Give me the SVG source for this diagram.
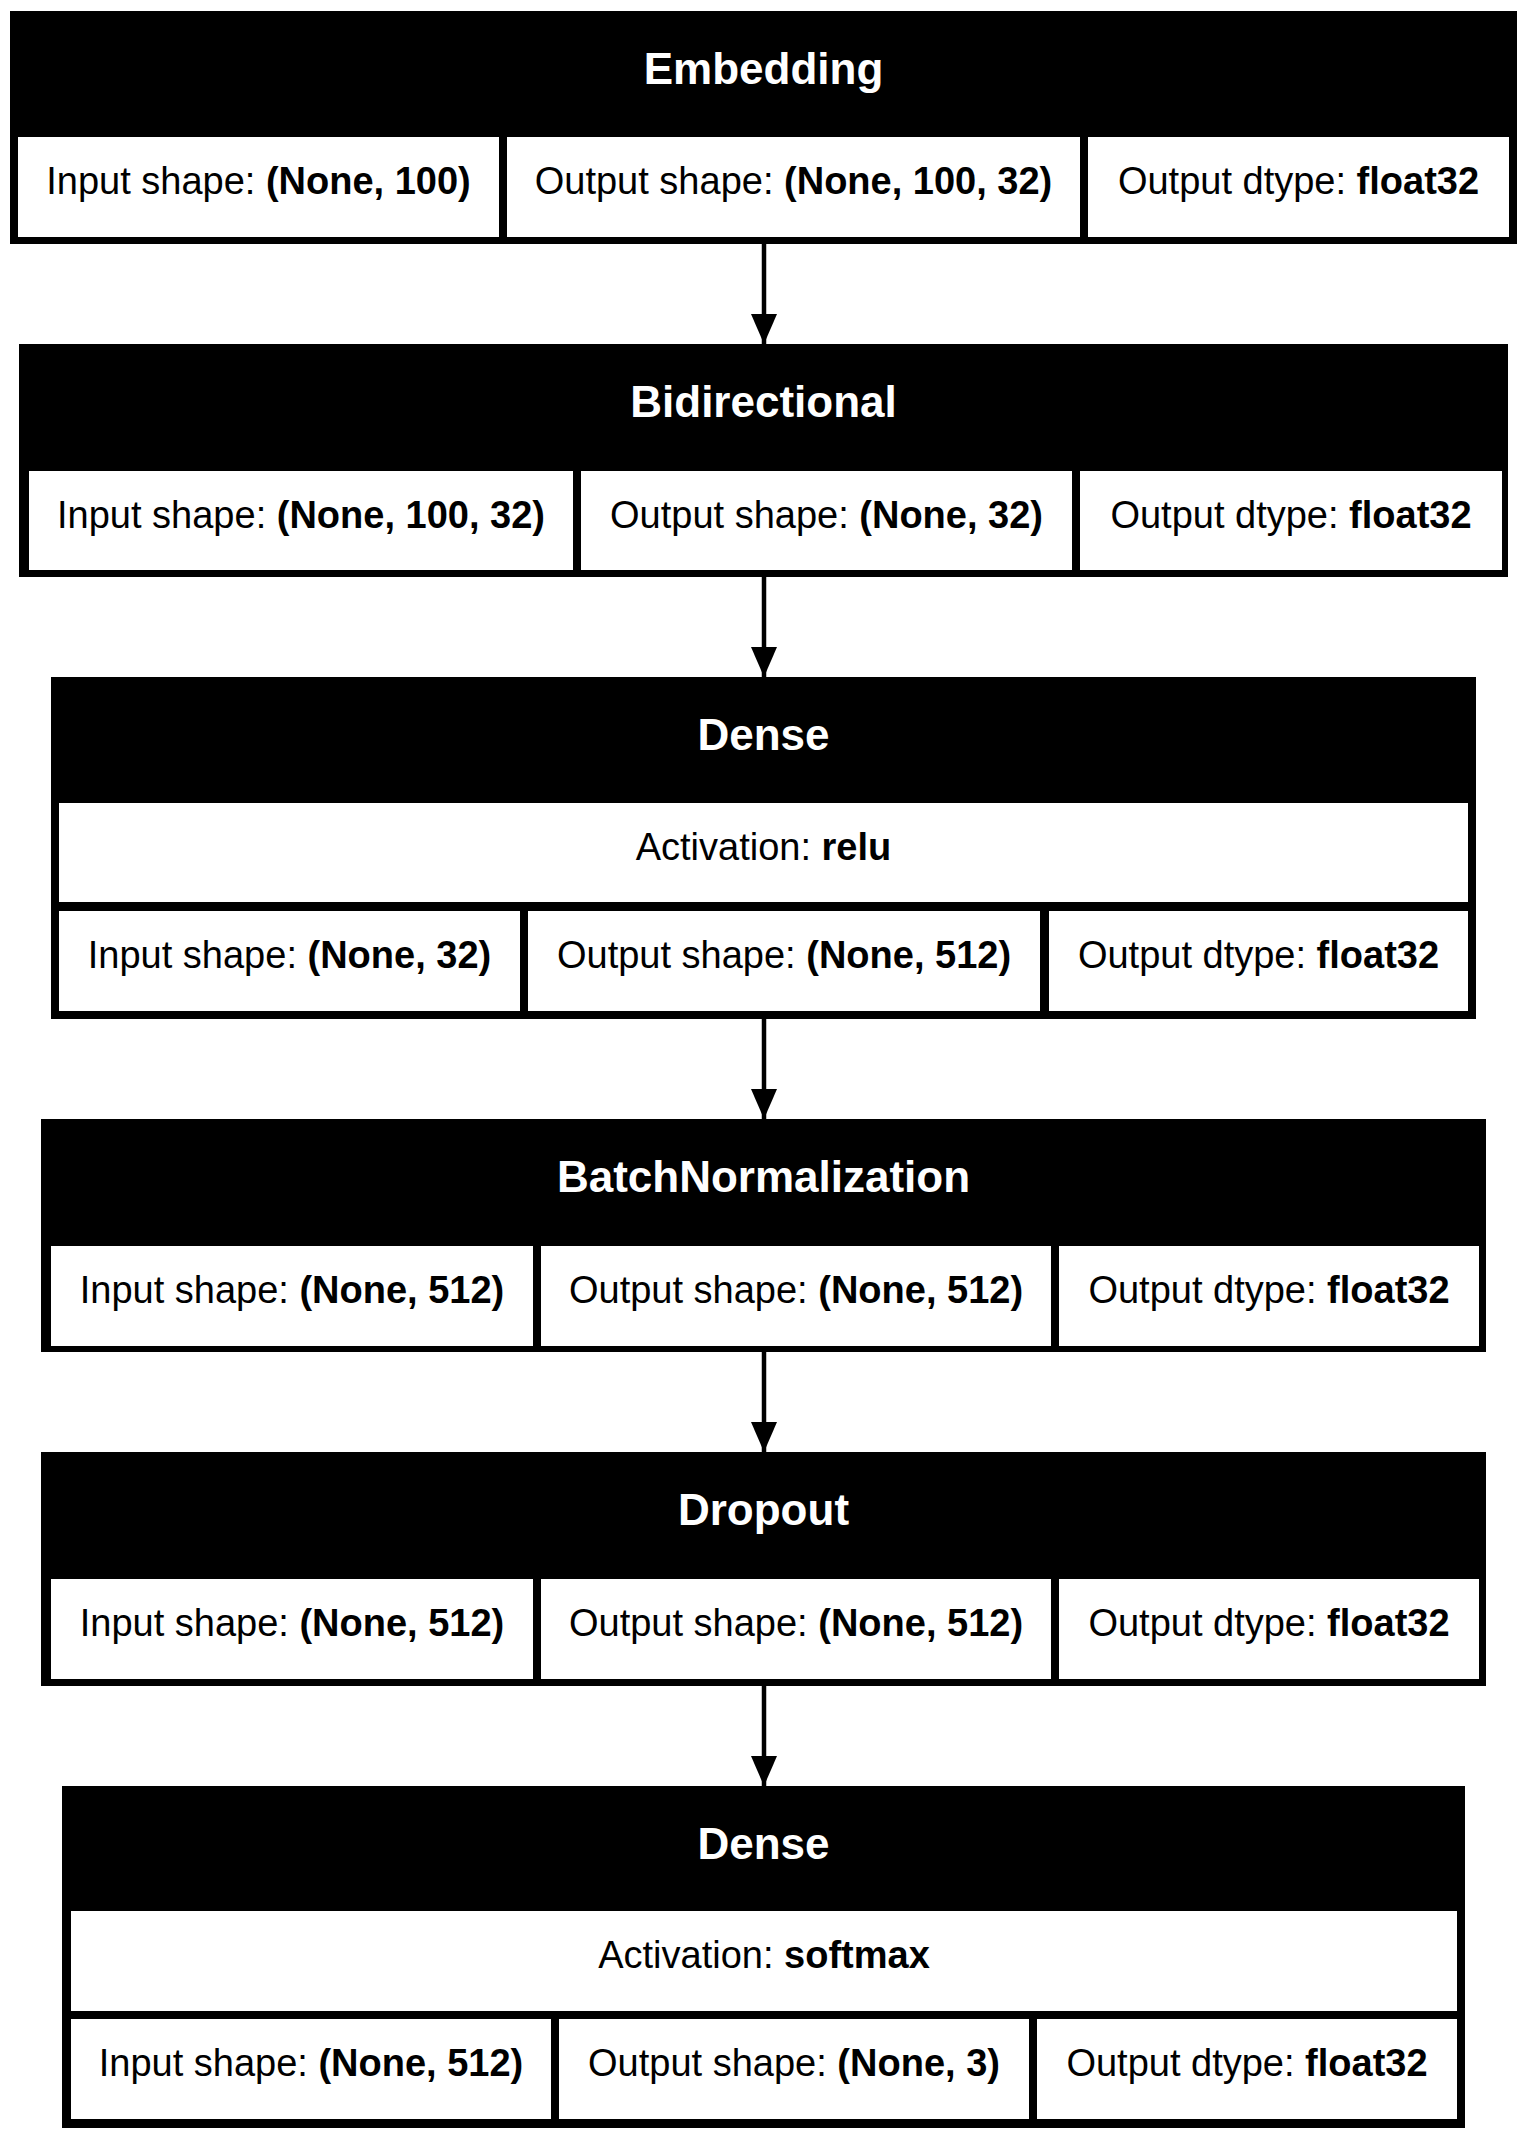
<svg xmlns="http://www.w3.org/2000/svg" width="1528" height="2139" viewBox="0 0 1528 2139">
<style>
.frame{fill:#000}
.cell{fill:#fff}
.t{font-family:"Liberation Sans",Arial,sans-serif;font-size:38px;fill:#000;text-anchor:middle}
.b{font-weight:bold}
.title{font-family:"Liberation Sans",Arial,sans-serif;font-size:44px;font-weight:bold;fill:#fff;text-anchor:middle}
.edge{stroke:#000;stroke-width:4.5;fill:none}
</style>
<defs>
<marker id="arrow" viewBox="0 0 30 26" refX="30" refY="13" markerWidth="30" markerHeight="26" markerUnits="userSpaceOnUse" orient="auto">
<path d="M0,0 L30,13 L0,26 z" fill="#000"/>
</marker>
</defs>
<rect width="1528" height="2139" fill="#fff"/>

<g id="connectors">
<line class="edge" x1="764" y1="244" x2="764" y2="344" marker-end="url(#arrow)"/>
<line class="edge" x1="764" y1="577" x2="764" y2="677" marker-end="url(#arrow)"/>
<line class="edge" x1="764" y1="1019" x2="764" y2="1119" marker-end="url(#arrow)"/>
<line class="edge" x1="764" y1="1352" x2="764" y2="1452" marker-end="url(#arrow)"/>
<line class="edge" x1="764" y1="1686" x2="764" y2="1786" marker-end="url(#arrow)"/>
</g>

<g id="embedding">
<rect class="frame" x="10" y="11" width="1507" height="233"/>
<text class="title" x="763.5" y="84">Embedding</text>
<rect class="cell" x="18" y="137" width="481" height="100"/>
<rect class="cell" x="507" y="137" width="573" height="100"/>
<rect class="cell" x="1088" y="137" width="421" height="100"/>
<text class="t" x="258.5" y="194">Input shape: <tspan class="b">(None, 100)</tspan></text>
<text class="t" x="793.5" y="194">Output shape: <tspan class="b">(None, 100, 32)</tspan></text>
<text class="t" x="1298.5" y="194">Output dtype: <tspan class="b">float32</tspan></text>
</g>

<g id="bidirectional">
<rect class="frame" x="19" y="344" width="1489" height="233"/>
<text class="title" x="763.5" y="417">Bidirectional</text>
<rect class="cell" x="29" y="471" width="544" height="99"/>
<rect class="cell" x="581" y="471" width="491" height="99"/>
<rect class="cell" x="1080" y="471" width="422" height="99"/>
<text class="t" x="301" y="528">Input shape: <tspan class="b">(None, 100, 32)</tspan></text>
<text class="t" x="826.5" y="528">Output shape: <tspan class="b">(None, 32)</tspan></text>
<text class="t" x="1291" y="528">Output dtype: <tspan class="b">float32</tspan></text>
</g>

<g id="dense">
<rect class="frame" x="51" y="677" width="1425" height="342"/>
<text class="title" x="763.5" y="750">Dense</text>
<rect class="cell" x="59" y="803" width="1409" height="99"/>
<text class="t" x="763.5" y="860">Activation: <tspan class="b">relu</tspan></text>
<rect class="cell" x="59" y="911" width="461" height="100"/>
<rect class="cell" x="528" y="911" width="512" height="100"/>
<rect class="cell" x="1049" y="911" width="419" height="100"/>
<text class="t" x="289.5" y="968">Input shape: <tspan class="b">(None, 32)</tspan></text>
<text class="t" x="784" y="968">Output shape: <tspan class="b">(None, 512)</tspan></text>
<text class="t" x="1258.5" y="968">Output dtype: <tspan class="b">float32</tspan></text>
</g>

<g id="batchnormalization">
<rect class="frame" x="41" y="1119" width="1445" height="233"/>
<text class="title" x="763.5" y="1192">BatchNormalization</text>
<rect class="cell" x="51" y="1246" width="482" height="100"/>
<rect class="cell" x="541" y="1246" width="510" height="100"/>
<rect class="cell" x="1059" y="1246" width="420" height="100"/>
<text class="t" x="292" y="1303">Input shape: <tspan class="b">(None, 512)</tspan></text>
<text class="t" x="796" y="1303">Output shape: <tspan class="b">(None, 512)</tspan></text>
<text class="t" x="1269" y="1303">Output dtype: <tspan class="b">float32</tspan></text>
</g>

<g id="dropout">
<rect class="frame" x="41" y="1452" width="1445" height="234"/>
<text class="title" x="763.5" y="1525">Dropout</text>
<rect class="cell" x="51" y="1579" width="482" height="100"/>
<rect class="cell" x="541" y="1579" width="510" height="100"/>
<rect class="cell" x="1059" y="1579" width="420" height="100"/>
<text class="t" x="292" y="1636">Input shape: <tspan class="b">(None, 512)</tspan></text>
<text class="t" x="796" y="1636">Output shape: <tspan class="b">(None, 512)</tspan></text>
<text class="t" x="1269" y="1636">Output dtype: <tspan class="b">float32</tspan></text>
</g>

<g id="dense_1">
<rect class="frame" x="62" y="1786" width="1403" height="342"/>
<text class="title" x="763.5" y="1859">Dense</text>
<rect class="cell" x="71" y="1911" width="1386" height="100"/>
<text class="t" x="764" y="1968">Activation: <tspan class="b">softmax</tspan></text>
<rect class="cell" x="71" y="2019" width="480" height="100"/>
<rect class="cell" x="559" y="2019" width="470" height="100"/>
<rect class="cell" x="1037" y="2019" width="420" height="100"/>
<text class="t" x="311" y="2076">Input shape: <tspan class="b">(None, 512)</tspan></text>
<text class="t" x="794" y="2076">Output shape: <tspan class="b">(None, 3)</tspan></text>
<text class="t" x="1247" y="2076">Output dtype: <tspan class="b">float32</tspan></text>
</g>
</svg>
